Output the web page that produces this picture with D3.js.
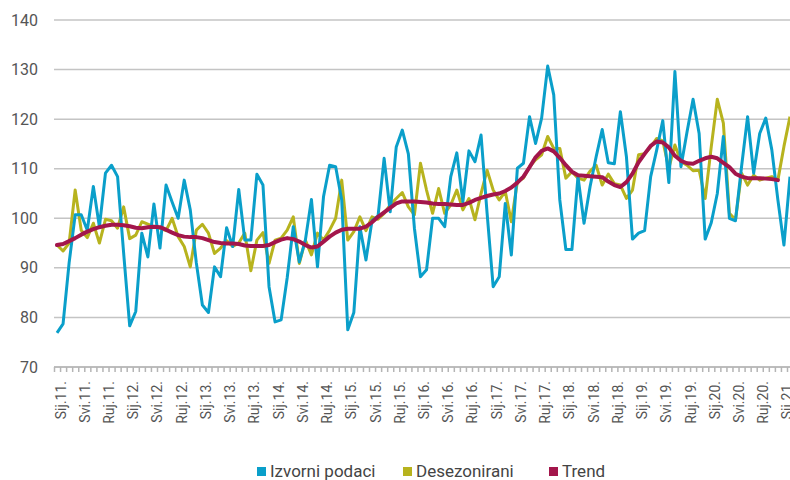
<!DOCTYPE html>
<html><head><meta charset="utf-8">
<script src="https://cdn.jsdelivr.net/npm/d3@7"></script>
<style>
html,body{margin:0;padding:0;background:#fff;}
svg{display:block;font-family:Roboto, "DejaVu Sans", sans-serif;}
</style></head>
<body><svg id="c" width="790" height="480"></svg>
<script>
const monthNames = ["Sij","Velj","Ožu","Tra","Svi","Lip","Srp","Kol","Ruj","Lis","Stu","Pro"];
const startYear = 11;
const nMonths = 122;
const categories = d3.range(nMonths).map(i => monthNames[i % 12] + "." + (startYear + Math.floor(i / 12)) + ".");
const tickLabels = categories.filter((d, i) => i % 4 === 0);
const yTicks = [70, 80, 90, 100, 110, 120, 130, 140];

const izvorni = [76.9,78.7,91,100.7,100.7,97.6,106.4,98.3,109.1,110.7,108.4,93,
78.3,81.2,97.0,92.2,102.9,94.0,106.7,103.3,100.0,107.7,101.7,91,
82.5,81.0,90.2,88.2,98.1,94.3,105.8,95.6,95.6,108.9,106.7,86.2,
79.1,79.5,88,98.3,91.2,95.6,103.8,90.2,104.4,110.7,110.4,103.7,
77.5,81.0,98.3,91.6,99.5,100.5,112.1,101.3,114.4,117.8,113.0,98,
88.2,89.6,100.0,100.0,98.3,108.4,113.2,103.3,113.6,111.4,116.8,101,
86.2,88.2,103.0,92.6,110.1,111.1,120.5,115.1,120.2,130.7,124.9,103.7,
93.7,93.7,108.4,99.0,106.4,112.4,117.9,111.2,111.0,121.5,112.4,95.8,
97.0,97.5,108.4,113.8,119.7,107.2,129.6,110.4,117.4,124.0,117.1,95.8,
99.1,105.0,116.5,100,99.5,110.4,120.5,109.1,117.1,120.2,113.8,103.7,
94.6,108.4];

const desezonirani = [94.6,93.4,95.0,105.7,97.6,96.1,99.0,95.0,99.8,99.5,98.0,102.3,
95.9,96.6,99.3,98.8,98.3,98.0,97.5,100,96.3,94.3,90.2,97.6,
98.8,97.0,92.9,94.0,95.5,94.3,95,97,89.4,95.6,97.1,90.9,
95.6,96.0,97.6,100.3,90.9,95.6,92.6,97,95.6,97.6,100,107.7,
95.6,97.3,100.3,97.5,100.3,99.8,101,102.7,104,105.2,102.3,100.7,
111.1,105.7,101,106,101,102.7,105.7,101.7,104,99.7,105,109.7,
105.7,103.7,105.4,99.3,107.4,108.1,110.4,111.8,112.8,116.5,114.1,114.1,
108.1,109.4,108.1,107.7,109.5,110.7,106.7,108.9,107,106.7,104,105.7,
112.8,113,114.4,116.1,115.6,110.1,114.8,111.4,110.7,109.6,109.7,104,
114.4,124,119.2,101,99.7,109.1,106.7,108.7,107.7,108.1,108.4,107.7,
114.5,120.5];

const trend = [94.6,94.8,95.4,96.0,96.7,97.3,97.8,98.2,98.5,98.7,98.7,98.6,
98.4,98.1,98.0,98.2,98.3,98.2,97.7,97.1,96.6,96.3,96.2,96.2,
96.0,95.6,95.2,95.0,94.9,94.9,94.8,94.5,94.4,94.4,94.4,94.6,
95.2,95.7,96.0,95.8,95.3,94.6,94.1,94.3,95.3,96.3,97.1,97.7,
97.9,97.9,97.9,98.3,99.2,100.3,101.2,102.1,103.0,103.4,103.4,103.4,
103.3,103.2,103.0,102.9,102.9,102.8,102.7,102.7,103.1,103.7,104.1,104.5,
104.8,105.0,105.5,106.2,107.2,108.4,110.3,112.3,113.6,114.1,113.5,112.2,
110.7,109.4,108.7,108.6,108.5,108.4,108.3,107.4,106.7,106.3,107.3,109.0,
111.3,113.0,114.6,115.5,115.3,114.3,112.6,111.6,111.1,111.0,111.6,112.1,
112.4,112.1,111.2,110.3,109.0,108.4,108.1,108.1,108.1,108.0,107.9,107.7];

const seriesNames = ["Izvorni podaci", "Desezonirani", "Trend"];
const colors = ["#0a9fca", "#b7b31e", "#a3164b"];

const svg = d3.select("#c");
const x = d3.scalePoint().domain(categories).range([57, 790]);
const y = d3.scaleLinear().domain([70, 140]).range([367, 20]);

// grid
svg.append("g").selectAll("line").data(yTicks.filter(v => v > 70)).join("line")
  .attr("x1", 54).attr("x2", 790)
  .attr("y1", d => y(d)).attr("y2", d => y(d))
  .attr("stroke", "#c4c4c4").attr("stroke-width", 1.5);

// y labels
const yAxis = d3.axisLeft(y).tickValues(yTicks).tickSize(0).tickPadding(0);
const gy = svg.append("g").attr("transform", "translate(38,0)").call(yAxis);
gy.select(".domain").remove();
gy.selectAll("text").attr("font-size", 16).attr("fill", "#555").attr("font-family", "Roboto");

// x axis
const xAxis = d3.axisBottom(x).tickValues(categories).tickSize(5).tickSizeOuter(0)
  .tickFormat(d => tickLabels.includes(d) ? d : "");
const gx = svg.append("g").attr("transform", "translate(0,367)").call(xAxis);
gx.select(".domain").attr("stroke", "#bdbdbd").attr("stroke-width", 2).attr("d", "M54,0H790");
gx.selectAll(".tick line").attr("stroke", "#b5b5b5").attr("stroke-width", 1.5).attr("transform", "translate(-3,0)");
gx.selectAll(".tick text")
  .attr("font-size", 14).attr("fill", "#555").attr("font-family", "Roboto")
  .attr("text-anchor", "end").attr("dominant-baseline", "central")
  .attr("dy", null).attr("y", 0)
  .attr("transform", "translate(3,14) rotate(-90)");

// lines
const line = d3.line().x((d, i) => x(categories[i])).y(d => y(d));
const plot = svg.append("g");
plot.append("path").datum(desezonirani).attr("d", line).attr("fill", "none")
  .attr("stroke", colors[1]).attr("stroke-width", 3).attr("stroke-linejoin", "round");
plot.append("path").datum(izvorni).attr("d", line).attr("fill", "none")
  .attr("stroke", colors[0]).attr("stroke-width", 3).attr("stroke-linejoin", "round");
plot.append("path").datum(trend).attr("d", line).attr("fill", "none")
  .attr("stroke", colors[2]).attr("stroke-width", 4).attr("stroke-linejoin", "round").attr("stroke-linecap", "round");

// legend
const legendX = [257, 403, 549];
const lg = svg.append("g").selectAll("g").data(seriesNames).join("g")
  .attr("transform", (d, i) => `translate(${legendX[i]},467)`);
lg.append("rect").attr("width", 9).attr("height", 9).attr("fill", (d, i) => colors[i]);
lg.append("text").attr("x", 13).attr("y", 10).attr("font-size", 17).attr("fill", "#444")
  .attr("font-family", "Roboto").text(d => d);
</script></body></html>
